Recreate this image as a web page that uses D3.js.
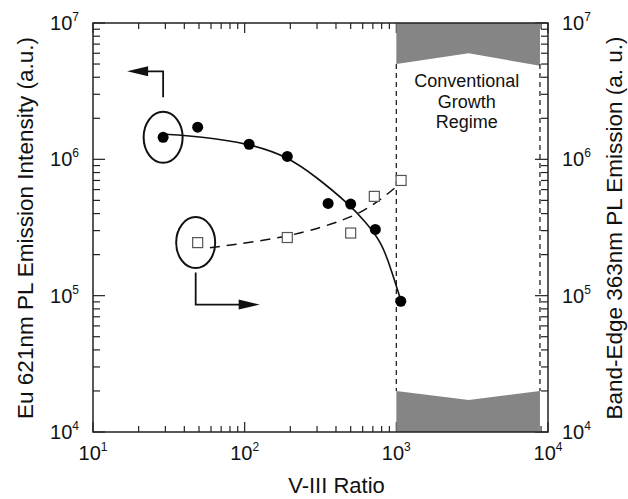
<!DOCTYPE html>
<html>
<head>
<meta charset="utf-8">
<script src="https://cdn.jsdelivr.net/npm/d3@7"></script>
<style>
  body { margin: 0; background: #fff; }
  text { font-family: "Liberation Sans", Arial, Helvetica, sans-serif; fill: #111; }
</style>
</head>
<body>
<div id="chart"></div>
<script>
// Eu 621nm emission (filled circles, left axis)
const euRatio = [29, 49, 107, 191, 355, 500, 727, 1070];
const euIntensity = [1.45e6, 1.72e6, 1.29e6, 1.05e6, 4.75e5, 4.7e5, 3.06e5, 9.1e4];
// band-edge 363nm emission (open squares, right axis)
const bandRatio = [49, 191, 500, 716, 1075];
const bandIntensity = [2.45e5, 2.67e5, 2.88e5, 5.35e5, 7.0e5];
// guide curves
const euFitRatio = [29, 50.6, 106, 192, 298, 490, 632, 809, 927, 1080];
const euFitValue = [1.53e6, 1.47e6, 1.31e6, 1.05e6, 7.4e5, 4.67e5, 3.44e5, 2.41e5, 1.53e5, 9.0e4];
const bandFitRatio = [59, 198, 490, 645, 809, 1062];
const bandFitValue = [2.25e5, 2.67e5, 3.68e5, 4.37e5, 5.17e5, 6.67e5];
// conventional growth regime
const regimeRatio = [1000, 3000, 8850];
const regimeTopEdge = [5.0e6, 6.0e6, 4.85e6];
const regimeBottomEdge = [2.0e4, 1.72e4, 2.0e4];
const regimeLabel = ["Conventional", "Growth", "Regime"];

const xTickExp = [1, 2, 3, 4];
const yTickExp = [4, 5, 6, 7];

const W = 628, H = 499;
const margin = {top: 23, right: 80, bottom: 67, left: 93};
const w = W - margin.left - margin.right;
const h = H - margin.top - margin.bottom;

const svg = d3.select("#chart").append("svg")
    .attr("width", W).attr("height", H);
const g = svg.append("g").attr("transform", `translate(${margin.left},${margin.top})`);

const x = d3.scaleLog().domain([10, 1e4]).range([0, w]);
const y = d3.scaleLog().domain([1e4, 1e7]).range([h, 0]);
const y2 = d3.scaleLog().domain([1e4, 1e7]).range([h, 0]);

// minor/major ticks, all pointing inward
const isMajor = v => Math.abs(Math.log10(v) - Math.round(Math.log10(v))) < 1e-6;
const ticks = g.append("g").attr("stroke", "#222").attr("stroke-width", 1.2);
x.ticks().forEach(v => {
  const len = isMajor(v) ? 10 : 6;
  ticks.append("line").attr("x1", x(v)).attr("x2", x(v)).attr("y1", h).attr("y2", h - len);
  ticks.append("line").attr("x1", x(v)).attr("x2", x(v)).attr("y1", 0).attr("y2", len);
});
y.ticks().forEach(v => {
  const len = isMajor(v) ? 12 : 7;
  ticks.append("line").attr("x1", 0).attr("x2", len).attr("y1", y(v)).attr("y2", y(v));
});
y2.ticks().forEach(v => {
  const len = isMajor(v) ? 13 : 7;
  ticks.append("line").attr("x1", w).attr("x2", w - len).attr("y1", y2(v)).attr("y2", y2(v));
});

// grey bands of the conventional regime
const bandFill = "#858585";
const edge = d3.line().x(d => x(d[0])).y(d => y(d[1]));
const last = regimeRatio.length - 1;
g.append("path")
  .attr("d", edge([[regimeRatio[0], 1e7]]
    .concat(regimeRatio.map((r, i) => [r, regimeTopEdge[i]]), [[regimeRatio[last], 1e7]])))
  .attr("fill", bandFill);
g.append("path")
  .attr("d", edge([[regimeRatio[0], 1e4]]
    .concat(regimeRatio.map((r, i) => [r, regimeBottomEdge[i]]), [[regimeRatio[last], 1e4]])))
  .attr("fill", bandFill);

// dashed boundaries
[regimeRatio[0], regimeRatio[last]].forEach(r => {
  g.append("line")
    .attr("x1", x(r)).attr("x2", x(r))
    .attr("y1", y(regimeTopEdge[0])).attr("y2", y(regimeBottomEdge[0]))
    .attr("stroke", "#222").attr("stroke-width", 1.3)
    .attr("stroke-dasharray", "5,4");
});

g.append("g").selectAll("text").data(regimeLabel).join("text")
  .attr("x", x(regimeRatio[1]) - 2)
  .attr("y", (d, i) => 64 + i * 20.5)
  .attr("text-anchor", "middle")
  .attr("font-size", 18)
  .text(d => d);

// frame
g.append("rect").attr("width", w).attr("height", h)
  .attr("fill", "none").attr("stroke", "#222").attr("stroke-width", 1.5);

// guide curves
g.append("path")
  .attr("d", d3.line().curve(d3.curveBasis)
    .x((d, i) => x(euFitRatio[i])).y(d => y(d))(euFitValue))
  .attr("fill", "none").attr("stroke", "#111").attr("stroke-width", 1.6);
g.append("path")
  .attr("d", d3.line().curve(d3.curveBasis)
    .x((d, i) => x(bandFitRatio[i])).y(d => y2(d))(bandFitValue))
  .attr("fill", "none").attr("stroke", "#111").attr("stroke-width", 1.5)
  .attr("stroke-dasharray", "10,7");

// markers
g.append("g").selectAll("circle").data(euIntensity).join("circle")
  .attr("cx", (d, i) => x(euRatio[i])).attr("cy", d => y(d))
  .attr("r", 5.5).attr("fill", "#000");
const sq = 10;
g.append("g").selectAll("rect").data(bandIntensity).join("rect")
  .attr("x", (d, i) => x(bandRatio[i]) - sq / 2).attr("y", d => y2(d) - sq / 2)
  .attr("width", sq).attr("height", sq)
  .attr("fill", "#fff").attr("stroke", "#555").attr("stroke-width", 1.2);

// annotations: ellipses with bent arrows
function annotate(px, py, dir) {
  g.append("ellipse").attr("cx", px).attr("cy", py).attr("rx", 19.5).attr("ry", 25.5)
    .attr("fill", "none").attr("stroke", "#111").attr("stroke-width", 2);
  const a = g.append("g").attr("stroke", "#111").attr("stroke-width", 1.8).attr("fill", "none");
  if (dir < 0) {
    a.append("path").attr("d", `M${px},${py - 40} V${py - 66} H${px - 16}`);
    g.append("path").attr("d", `M${px - 36},${py - 66} L${px - 15},${py - 71} L${px - 15},${py - 61} Z`)
      .attr("fill", "#111");
  } else {
    a.append("path").attr("d", `M${px},${py + 30} V${py + 62} H${px + 44}`);
    g.append("path").attr("d", `M${px + 64},${py + 62} L${px + 43},${py + 57} L${px + 43},${py + 67} Z`)
      .attr("fill", "#111");
  }
}
annotate(x(euRatio[0]), y(euIntensity[0]), -1);
annotate(x(bandRatio[0]) - 2, y2(bandIntensity[0]), 1);

// tick labels with superscripts
function power(sel, e) {
  sel.append("tspan").attr("font-size", 20).text("10");
  sel.append("tspan").attr("font-size", 12).attr("dy", -9).text(e);
}
xTickExp.forEach(e => {
  power(g.append("text").attr("x", x(Math.pow(10, e))).attr("y", h + 28)
    .attr("text-anchor", "middle"), e);
});
yTickExp.forEach(e => {
  power(g.append("text").attr("x", -14).attr("y", y(Math.pow(10, e)) + 7)
    .attr("text-anchor", "end"), e);
  power(g.append("text").attr("x", w + 14).attr("y", y2(Math.pow(10, e)) + 7)
    .attr("text-anchor", "start"), e);
});

// axis titles
svg.append("text").attr("x", margin.left + w / 2 + 16).attr("y", 493)
  .attr("text-anchor", "middle").attr("font-size", 22).text("V-III Ratio");
svg.append("text")
  .attr("transform", `translate(33,${margin.top + 205}) rotate(-90)`)
  .attr("text-anchor", "middle").attr("font-size", 22.5)
  .text("Eu 621nm PL Emission Intensity (a.u.)");
svg.append("text")
  .attr("transform", `translate(622,${margin.top + 205}) rotate(-90)`)
  .attr("text-anchor", "middle").attr("font-size", 22.5)
  .text("Band-Edge 363nm PL Emission (a. u.)");
</script>
</body>
</html>
